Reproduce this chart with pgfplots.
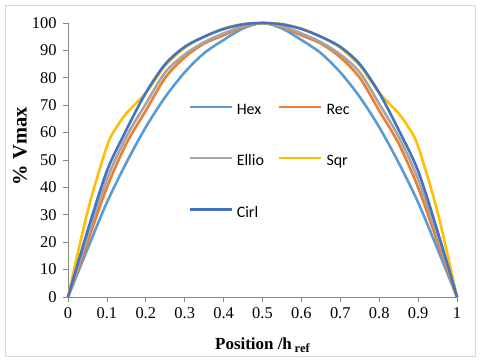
\documentclass[border=0pt]{standalone}
\usepackage{pgfplots}
\pgfplotsset{compat=1.18}
\usepackage{fontspec}
\setmainfont{Liberation Serif}
\newfontfamily\carlito{Carlito}
\newcommand\tf{\fontsize{16.5}{18}\selectfont}
\definecolor{cHex}{HTML}{5B9BD5}
\definecolor{cRec}{HTML}{ED7D31}
\definecolor{cEll}{HTML}{A5A5A5}
\definecolor{cSqr}{HTML}{FFC000}
\definecolor{cCir}{HTML}{4472C4}
\definecolor{axgray}{HTML}{868686}
\definecolor{frgray}{HTML}{D9D9D9}
\begin{document}
\begin{tikzpicture}
\useasboundingbox (0,0) rectangle (480bp,361bp);
\draw[frgray, line width=0.75bp] (5bp,5bp) rectangle (475bp,356bp);
\begin{axis}[
  at={(68bp,64bp)}, anchor=south west,
  scale only axis, width=389bp, height=274bp,
  xmin=0, xmax=1, ymin=0, ymax=100,
  axis lines=left, axis line style={axgray, line width=0.75bp, -},
  xtick={0,0.1,0.2,0.3,0.4,0.5,0.6,0.7,0.8,0.9,1}, ytick={0,10,20,30,40,50,60,70,80,90,100},
  xticklabels={0,0.1,0.2,0.3,0.4,0.5,0.6,0.7,0.8,0.9,1},
  yticklabels={0,10,20,30,40,50,60,70,80,90,100},
  tick style={axgray, line width=0.75bp},
  tick align=outside, major tick length=5bp,
  tick label style={font=\tf},
  xticklabel style={yshift=-2bp},
  yticklabel style={xshift=-3bp},
  xlabel={\textbf{Position /h}\,\raisebox{-0.45ex}{\fontsize{12.5}{13}\selectfont\textbf{ref}}},
  ylabel={\textbf{\% Vmax}},
  xlabel style={font=\fontsize{17}{19}\selectfont, at={(axis description cs:0.5,0)}, anchor=center, yshift=-48bp},
  ylabel style={font=\fontsize{20.5}{22}\selectfont, at={(axis description cs:0,0.55)}, anchor=center, yshift=48bp},
  legend columns=2,
  legend cell align=left,
  legend image code/.code={\draw[#1, line width=2.6bp] (0bp,0.3em) -- (42bp,0.3em);},
  legend style={draw=none, fill=none, inner sep=0pt,
    at={(axis description cs:0.3085,0.712)}, anchor=north west,
    font=\carlito\fontsize{16}{18}\selectfont,
    row sep=35bp, column sep=2bp,
    /tikz/every even column/.append style={column sep=12bp}},
  every axis plot/.append style={line width=2.6bp, smooth, tension=0.5, mark=none},
  clip=false,
]
\addplot[cHex] coordinates {(0,0) (0.05,17.5) (0.1,34.5) (0.15,49) (0.2,62) (0.25,73) (0.3,82) (0.35,89) (0.4,93.8) (0.45,98) (0.5,100) (0.55,98) (0.6,93.8) (0.65,89) (0.7,82) (0.75,73) (0.8,62) (0.85,49) (0.9,34.5) (0.95,17.5) (1,0)};
\addlegendentry{Hex}
\addplot[cRec] coordinates {(0,0) (0.05,20) (0.1,40) (0.15,56) (0.2,68) (0.25,80) (0.3,87.5) (0.35,92.5) (0.4,95.5) (0.45,98.5) (0.5,100) (0.55,98.5) (0.6,95.5) (0.65,92.5) (0.7,87.5) (0.75,80) (0.8,68) (0.85,56) (0.9,40) (0.95,20) (1,0)};
\addlegendentry{Rec}
\addplot[cEll] coordinates {(0,0) (0.05,22) (0.1,43) (0.15,58.5) (0.2,70.5) (0.25,82) (0.3,88.5) (0.35,93) (0.4,96.2) (0.45,98.8) (0.5,100) (0.55,98.8) (0.6,96.2) (0.65,93) (0.7,88.5) (0.75,82) (0.8,70.5) (0.85,58.5) (0.9,43) (0.95,22) (1,0)};
\addlegendentry{Ellio}
\addplot[cSqr] coordinates {(0,0) (0.05,31) (0.1,55) (0.125,62) (0.15,67) (0.175,70.7) (0.2,74.5) (0.225,79.5) (0.25,84.5) (0.3,91) (0.35,95) (0.4,98) (0.45,99.6) (0.5,100) (0.55,99.6) (0.6,98) (0.65,95) (0.7,91) (0.75,84.5) (0.775,79.5) (0.8,74.5) (0.825,70.7) (0.85,67) (0.875,62) (0.9,55) (0.95,31) (1,0)};
\addlegendentry{Sqr}
\addplot[cCir] coordinates {(0,0) (0.05,24) (0.1,46) (0.15,61) (0.2,74.5) (0.25,85) (0.3,91.3) (0.35,95) (0.4,97.8) (0.45,99.5) (0.5,100) (0.55,99.5) (0.6,97.8) (0.65,95) (0.7,91.3) (0.75,85) (0.8,74.5) (0.85,61) (0.9,46) (0.95,24) (1,0)};
\addlegendentry{Cirl}
\end{axis}
\end{tikzpicture}
\end{document}
